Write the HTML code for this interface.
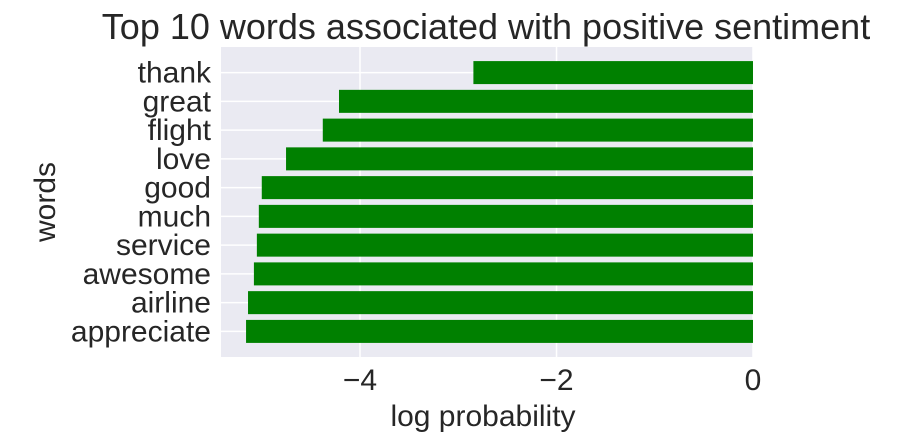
<!DOCTYPE html>
<html><head><meta charset="utf-8"><style>
body{margin:0;background:#fff;}
svg text{font-family:"Liberation Sans",sans-serif;fill:#262626;}
</style></head><body>
<svg id="chart" width="924" height="438">
<text x="486" y="39" font-size="36" text-anchor="middle">Top 10 words associated with positive sentiment</text>
<rect x="221" y="47" width="532" height="310" fill="#eaeaf2"/>
<g id="grid"></g><g id="bars"></g><g id="ticks"></g>
<text x="483" y="426" font-size="30" text-anchor="middle">log probability</text>
<text transform="translate(55,202) rotate(-90)" font-size="30" text-anchor="middle">words</text>
</svg>
<script>
const categories=["thank","great","flight","love","good","much","service","awesome","airline","appreciate"];
const values=[-2.846,-4.214,-4.379,-4.753,-5.0,-5.03,-5.05,-5.08,-5.14,-5.16];
const xTicks=[-4,-2,0];
const xTickLabels=["\u22124","\u22122","0"];
const NS="http://www.w3.org/2000/svg";
const L=221,R=753,T=47,B=357,xmin=-5.415,xmax=0;
const ymin=-0.89,ymax=categories.length-1+0.89;
const xs=v=>L+(v-xmin)/(xmax-xmin)*(R-L);
const ys=i=>T+(i-ymin)/(ymax-ymin)*(B-T);
const bw=0.8*(B-T)/(ymax-ymin);
function mk(t,a,p){const e=document.createElementNS(NS,t);for(const k in a)e.setAttribute(k,a[k]);p.appendChild(e);return e;}
const grid=document.getElementById('grid'),bars=document.getElementById('bars'),ticks=document.getElementById('ticks');
xTicks.forEach((v,i)=>{
 const g=mk('line',{x1:xs(v),x2:xs(v),y1:T,y2:B,stroke:'#fff','stroke-width':1.5},grid);
 
 
 const t=mk('text',{x:xs(v),y:B+33,'font-size':30,'text-anchor':'middle'},ticks);
 t.textContent=xTickLabels[i];
 
 
});
categories.forEach((c,i)=>{
 const g=mk('line',{x1:L,x2:R,y1:ys(i),y2:ys(i),stroke:'#fff','stroke-width':1.5},grid);
 
 
 const x0=xs(values[i]),x1=xs(0);
 const b=mk('rect',{x:x0,y:ys(i)-bw/2,width:x1-x0,height:bw,fill:'#008000'},bars);
 
 
 const t=mk('text',{x:L-10,y:ys(i)+10,'font-size':30,'text-anchor':'end'},ticks);
 t.textContent=c;
 
 
});
</script>
</body></html>
